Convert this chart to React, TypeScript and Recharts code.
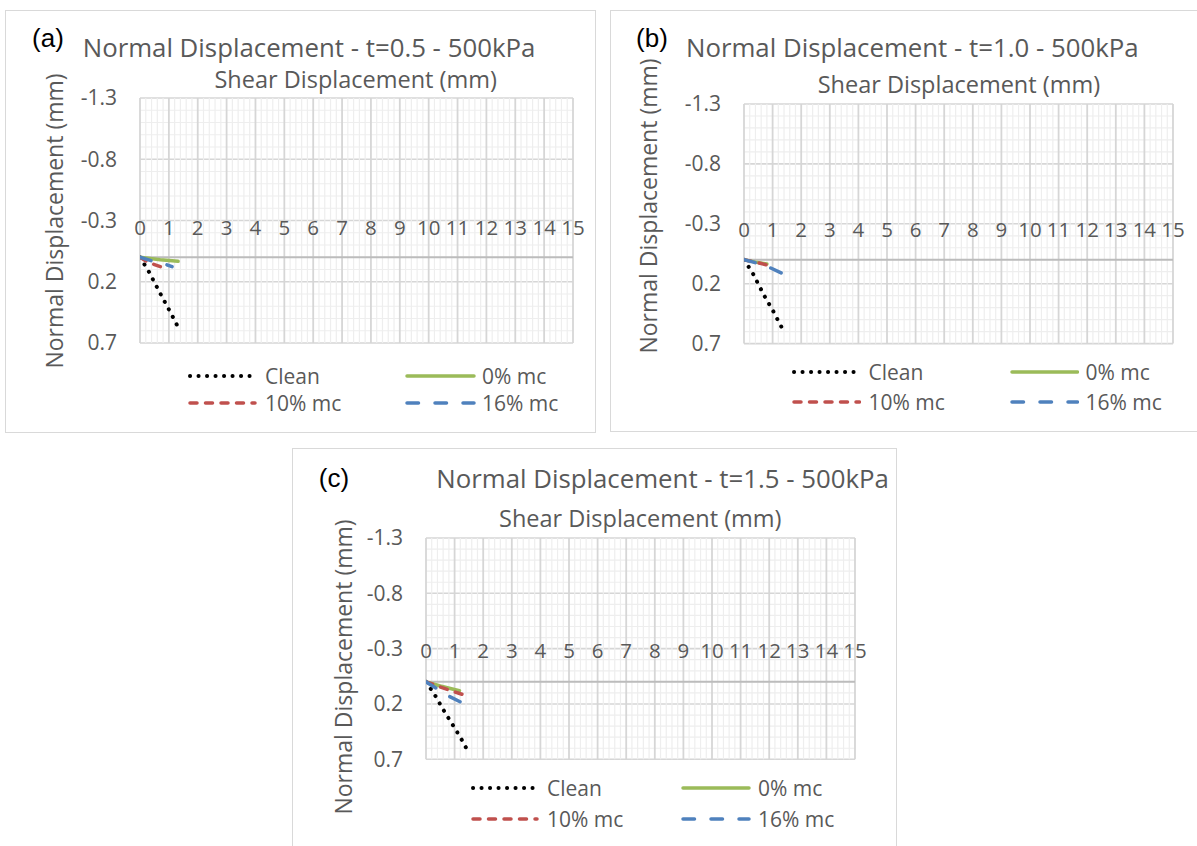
import React from 'react';
import { LineChart, Line, XAxis, YAxis, ReferenceLine, ReferenceDot } from 'recharts';

type Pt = { x: number; y: number };

// ---- axes / ticks ----
const xTicks = [0, 1, 2, 3, 4, 5, 6, 7, 8, 9, 10, 11, 12, 13, 14, 15];
const yTicks = [-1.3, -0.8, -0.3, 0.2, 0.7];
const xMinor: number[] = [];
for (let i = 0; i < 75; i++) if (i % 5 !== 0) xMinor.push(Math.round(i * 2) / 10);
const yMinor = [-1.2, -1.1, -1.0, -0.9, -0.7, -0.6, -0.5, -0.4, -0.2, -0.1, 0, 0.1, 0.3, 0.4, 0.5, 0.6];

const seriesNames = ['Clean', '0% mc', '10% mc', '16% mc'];
const titles = [
  'Normal Displacement - t=0.5 - 500kPa',
  'Normal Displacement - t=1.0 - 500kPa',
  'Normal Displacement - t=1.5 - 500kPa',
];
const panelTags = ['(a)', '(b)', '(c)'];
const xTitle = 'Shear Displacement (mm)';
const yTitle = 'Normal Displacement (mm)';

// ---- panel (a) t=0.5 ----
const cleanA: Pt[] = [{ x: 0, y: 0 }, { x: 0.3, y: 0.115 }, { x: 0.7, y: 0.295 }, { x: 1.1, y: 0.47 }, { x: 1.36, y: 0.59 }];
const mc0A: Pt[] = [{ x: 0, y: 0 }, { x: 0.7, y: 0.02 }, { x: 1.32, y: 0.033 }];
const mc10A: Pt[] = [{ x: 0, y: 0 }, { x: 0.2, y: 0.03 }, { x: 0.44, y: 0.055 }, { x: 0.77, y: 0.082 }];
const mc16A: Pt[] = [{ x: 0, y: 0 }, { x: 0.42, y: 0.03 }, { x: 0.88, y: 0.057 }, { x: 1.11, y: 0.077 }];

// ---- panel (b) t=1.0 ----
const cleanB: Pt[] = [{ x: 0, y: 0 }, { x: 0.3, y: 0.11 }, { x: 0.7, y: 0.297 }, { x: 1.0, y: 0.42 }, { x: 1.39, y: 0.598 }];
const mc0B: Pt[] = [{ x: 0, y: 0 }, { x: 0.4, y: 0.02 }, { x: 0.8, y: 0.035 }];
const mc10B: Pt[] = [{ x: 0, y: 0 }, { x: 0.5, y: 0.025 }, { x: 0.85, y: 0.047 }];
const mc16B: Pt[] = [{ x: 0, y: 0 }, { x: 0.33, y: 0.02 }, { x: 0.91, y: 0.066 }, { x: 1.35, y: 0.116 }];

// ---- panel (c) t=1.5 ----
const cleanC: Pt[] = [{ x: 0, y: 0 }, { x: 0.3, y: 0.115 }, { x: 0.6, y: 0.25 }, { x: 0.9, y: 0.375 }, { x: 1.2, y: 0.5 }, { x: 1.48, y: 0.634 }];
const mc0C: Pt[] = [{ x: 0, y: 0 }, { x: 0.5, y: 0.038 }, { x: 1.17, y: 0.08 }];
const mc10C: Pt[] = [{ x: 0, y: 0 }, { x: 0.5, y: 0.047 }, { x: 0.95, y: 0.086 }, { x: 1.3, y: 0.116 }];
const mc16C: Pt[] = [{ x: 0, y: 0 }, { x: 0.35, y: 0.056 }, { x: 0.8, y: 0.13 }, { x: 1.21, y: 0.183 }];

// ---- styles ----
const STYLES = [
  { stroke: '#000000', width: 4, dash: '0.1 8.4' },
  { stroke: '#9BBB59', width: 3.5, dash: undefined as string | undefined },
  { stroke: '#C0504D', width: 3.5, dash: '7 8.5' },
  { stroke: '#4F81BD', width: 3.5, dash: '11.5 16.5' },
];
const TXT = '#595959';
const FONT = '"Open Sans", sans-serif';

type Layout = {
  box: { left: number; top: number; width: number; height: number };
  plot: { left: number; top: number; w: number; h: number };
  xLabelY: number;
  tag: [number, number];
  title: [number, number];
  xt: [number, number];
  yt: [number, number];
  legend: { c1: [number, number, number]; c2: [number, number, number]; rows: [number, number] };
};

const layouts: Layout[] = [
  {
    box: { left: 5, top: 10, width: 591, height: 423 },
    plot: { left: 139.5, top: 98.3, w: 433, h: 245 },
    xLabelY: -0.245,
    tag: [48, 38],
    title: [309, 48.3],
    xt: [355.7, 80],
    yt: [53.8, 220.8],
    legend: { c1: [188, 257, 265], c2: [405, 476, 482], rows: [376, 403] },
  },
  {
    box: { left: 610, top: 10, width: 600, height: 422 },
    plot: { left: 744, top: 103.7, w: 429, h: 239.6 },
    xLabelY: -0.25,
    tag: [652, 37.5],
    title: [912.3, 48.3],
    xt: [958.9, 85],
    yt: [647.6, 205.5],
    legend: { c1: [791.5, 861, 868.5], c2: [1009.5, 1079, 1085.5], rows: [372.3, 401.7] },
  },
  {
    box: { left: 292, top: 448, width: 605, height: 420 },
    plot: { left: 426, top: 537.7, w: 429, h: 221.3 },
    xLabelY: -0.278,
    tag: [334, 478],
    title: [662.6, 479.3],
    xt: [640.3, 519.3],
    yt: [342.5, 667],
    legend: { c1: [471, 539, 547], c2: [681, 751, 758], rows: [788.3, 819.3] },
  },
];

const panelData: Pt[][][] = [
  [cleanA, mc0A, mc10A, mc16A],
  [cleanB, mc0B, mc10B, mc16B],
  [cleanC, mc0C, mc10C, mc16C],
];

const M = { top: 40, right: 40, bottom: 40, left: 20 };
const YW = 60;

function centered(x: number, y: number, extra: React.CSSProperties = {}): React.CSSProperties {
  return {
    position: 'absolute',
    left: x,
    top: y,
    transform: 'translate(-50%, -50%)',
    whiteSpace: 'nowrap',
    lineHeight: 1,
    ...extra,
  };
}

function LegendSample({ x1, x2, y, idx }: { x1: number; x2: number; y: number; idx: number }) {
  const s = STYLES[idx];
  const w = x2 - x1;
  return (
    <svg style={{ position: 'absolute', left: x1, top: y - 6 }} width={w} height={12}>
      <line
        x1={2}
        y1={6}
        x2={w - 2}
        y2={6}
        stroke={s.stroke}
        strokeWidth={s.width}
        strokeDasharray={s.dash}
        strokeLinecap="round"
      />
    </svg>
  );
}

function Panel({ i }: { i: number }) {
  const L = layouts[i];
  const data = panelData[i];
  const chartLeft = L.plot.left - M.left - YW;
  const chartTop = L.plot.top - M.top;
  const W = L.plot.w + M.left + YW + M.right;
  const H = L.plot.h + M.top + M.bottom;
  const wrap: React.CSSProperties = { position: 'absolute', left: chartLeft, top: chartTop, width: W, height: H };

  const xAxis = <XAxis type="number" dataKey="x" domain={[0, 15]} ticks={xTicks} allowDataOverflow hide />;

  const legendItems = [0, 1, 2, 3].map((k) => {
    const col = k % 2 === 0 ? L.legend.c1 : L.legend.c2;
    const row = L.legend.rows[k < 2 ? 0 : 1];
    const idx = k;
    return (
      <React.Fragment key={k}>
        <LegendSample x1={col[0]} x2={col[1]} y={row} idx={idx} />
        <div
          style={{
            position: 'absolute',
            left: col[2],
            top: row,
            transform: 'translateY(-50%)',
            whiteSpace: 'nowrap',
            lineHeight: 1,
            fontSize: 21,
            color: TXT,
          }}
        >
          {seriesNames[idx]}
        </div>
      </React.Fragment>
    );
  });

  return (
    <>
      <div
        style={{
          position: 'absolute',
          left: L.box.left,
          top: L.box.top,
          width: L.box.width,
          height: L.box.height,
          border: '1px solid #d9d9d9',
          boxSizing: 'border-box',
          background: '#ffffff',
        }}
      />
      {/* grid, axes, tick labels */}
      <div style={wrap}>
        <LineChart width={W} height={H} margin={M} data={data[0]}>
          {xAxis}
          <YAxis
            type="number"
            domain={[-1.3, 0.7]}
            ticks={yTicks}
            reversed
            allowDataOverflow
            width={YW}
            axisLine={false}
            tickLine={false}
            tickSize={6}
            tickMargin={17}
            tick={{ fill: TXT, fontSize: 21, fontFamily: FONT }}
          />
          {yMinor.map((v) => (
            <ReferenceLine key={'hm' + v} y={v} stroke="#eeeeee" strokeWidth={1.2} />
          ))}
          {yTicks.map((v) => (
            <ReferenceLine key={'hM' + v} y={v} stroke="#d6d6d6" strokeWidth={1.6} />
          ))}
          {xMinor.map((v) => (
            <ReferenceLine key={'vm' + v} x={v} stroke="#eeeeee" strokeWidth={1.2} />
          ))}
          {xTicks.map((v) => (
            <ReferenceLine key={'vM' + v} x={v} stroke="#d6d6d6" strokeWidth={1.8} />
          ))}
          <ReferenceLine y={0} stroke="#bcbcbc" strokeWidth={2} />
          {xTicks.map((t) => (
            <ReferenceDot
              key={'xl' + t}
              x={t}
              y={L.xLabelY}
              r={0}
              fill="none"
              stroke="none"
              label={{ value: String(t), position: 'center', fill: TXT, fontSize: 20.5, fontFamily: FONT }}
            />
          ))}
        </LineChart>
      </div>
      {/* series */}
      <div style={wrap}>
        <LineChart width={W} height={H} margin={M} data={data[0]}>
          {xAxis}
          <YAxis
            type="number"
            domain={[-1.3, 0.7]}
            ticks={yTicks}
            reversed
            allowDataOverflow
            width={YW}
            axisLine={false}
            tickLine={false}
            tick={false}
          />
          {data.map((d, k) => (
            <Line
              key={seriesNames[k]}
              data={d}
              dataKey="y"
              name={seriesNames[k]}
              type="linear"
              stroke={STYLES[k].stroke}
              strokeWidth={STYLES[k].width}
              strokeDasharray={STYLES[k].dash}
              strokeLinecap="round"
              dot={false}
              activeDot={false}
              isAnimationActive={false}
            />
          ))}
        </LineChart>
      </div>
      <div style={centered(L.tag[0], L.tag[1], { fontSize: 26, color: '#000', fontFamily: '"Liberation Sans", Arial, sans-serif' })}>
        {panelTags[i]}
      </div>
      <div style={centered(L.title[0], L.title[1], { fontSize: 25.8, color: TXT })}>{titles[i]}</div>
      <div style={centered(L.xt[0], L.xt[1], { fontSize: 23.5, color: TXT })}>{xTitle}</div>
      <div style={centered(L.yt[0], L.yt[1], { fontSize: 23, color: TXT, transform: 'translate(-50%, -50%) rotate(-90deg)' })}>
        {yTitle}
      </div>
      {legendItems}
    </>
  );
}

export default function App() {
  return (
    <div
      style={{
        position: 'absolute',
        left: 0,
        top: 0,
        width: 1197,
        height: 846,
        overflow: 'hidden',
        background: '#ffffff',
        fontFamily: FONT,
      }}
    >
      <Panel i={0} />
      <Panel i={1} />
      <Panel i={2} />
    </div>
  );
}
